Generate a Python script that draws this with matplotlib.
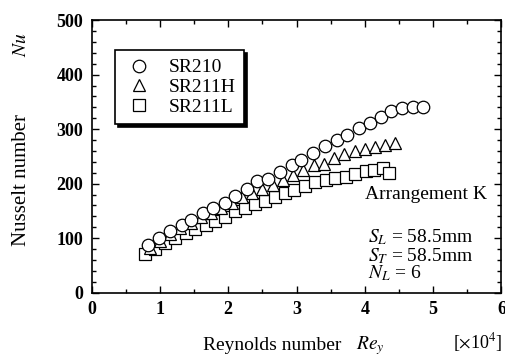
import numpy as np
import matplotlib.pyplot as plt
from matplotlib.ticker import MultipleLocator

plt.rcParams['font.family'] = ['Liberation Serif', 'DejaVu Serif']
plt.rcParams['mathtext.fontset'] = 'stix'

# SR210 (circles)
re_210 = [0.83, 0.98, 1.15, 1.32, 1.46, 1.63, 1.78, 1.95, 2.10, 2.27, 2.42, 2.58, 2.76,
          2.93, 3.07, 3.24, 3.41, 3.59, 3.74, 3.92, 4.07, 4.24, 4.39, 4.55, 4.70, 4.85]
nu_210 = [87, 100, 113, 124, 133, 146, 155, 165, 177, 190, 205, 209, 222,
          235, 243, 257, 270, 281, 289, 302, 312, 323, 333, 338, 341, 341]
# SR211H (triangles)
re_211h = [0.85, 1.0, 1.15, 1.3, 1.45, 1.6, 1.75, 1.9, 2.05, 2.2, 2.35, 2.5, 2.65,
           2.8, 2.95, 3.1, 3.25, 3.4, 3.55, 3.7, 3.85, 4.0, 4.15, 4.3, 4.44]
nu_211h = [82, 95, 107, 118, 128, 138, 147, 155, 165, 175, 182, 190, 197,
           207, 216, 225, 234, 237, 248, 255, 260, 264, 268, 271, 274]
# SR211L (squares)
re_211l = [0.78, 0.93, 1.07, 1.22, 1.38, 1.51, 1.67, 1.81, 1.95, 2.10, 2.24, 2.39, 2.54,
           2.68, 2.83, 2.97, 3.12, 3.27, 3.43, 3.57, 3.72, 3.86, 4.01, 4.14, 4.27, 4.36]
nu_211l = [71, 81, 92, 100, 109, 116, 124, 132, 139, 149, 155, 163, 169,
           176, 182, 189, 195, 203, 207, 210, 213, 217, 224, 225, 229, 220]

fig = plt.figure(figsize=(5.06, 3.6), dpi=100)
ax = fig.add_axes([0.181, 0.187, 0.810, 0.757])

mk = dict(ls='none', mfc='white', mec='black', mew=0.9, ms=9)
ax.plot(re_211l, nu_211l, 's', label='SR211L', **mk)
ax.plot(re_211h, nu_211h, '^', label='SR211H', **mk)
ax.plot(re_210, nu_210, 'o', label='SR210', **mk)

ax.set_xlim(0, 6)
ax.set_ylim(0, 500)
ax.xaxis.set_major_locator(MultipleLocator(1))
ax.xaxis.set_minor_locator(MultipleLocator(0.5))
ax.yaxis.set_major_locator(MultipleLocator(100))
ax.yaxis.set_minor_locator(MultipleLocator(20))
ax.tick_params(which='both', direction='in', top=True, right=True, width=1.0)
ax.tick_params(which='major', length=5, labelsize=13, pad=6)
ax.tick_params(which='minor', length=3)
for t in ax.get_xticklabels() + ax.get_yticklabels():
    t.set_fontweight('bold')
for s in ax.spines.values():
    s.set_linewidth(1.2)

h, l = ax.get_legend_handles_labels()
leg = ax.legend(h[::-1], l[::-1], loc='upper left', bbox_to_anchor=(0.057, 0.89),
                borderaxespad=0, fancybox=False, edgecolor='black', fontsize=14,
                handletextpad=0.7, borderpad=0.45, labelspacing=0.1, handlelength=1.6,
                shadow={'color': 'black', 'alpha': 1})
leg.get_frame().set_linewidth(1.2)

ax.text(0.965, 0.36, 'Arrangement K', transform=ax.transAxes, ha='right', va='center', fontsize=14)
ax.text(0.675, 0.205, '$S_L$ = 58.5mm', transform=ax.transAxes, ha='left', va='center', fontsize=14)
ax.text(0.675, 0.135, '$S_T$ = 58.5mm', transform=ax.transAxes, ha='left', va='center', fontsize=14)
ax.text(0.675, 0.07, '$N_L$ = 6', transform=ax.transAxes, ha='left', va='center', fontsize=14)

fig.text(0.042, 0.5, 'Nusselt number', rotation=90, ha='center', va='center', fontsize=15)
fig.text(0.042, 0.875, '$Nu$', rotation=90, ha='center', va='center', fontsize=14)
fig.text(0.538, 0.04, 'Reynolds number', ha='center', va='center', fontsize=14)
fig.text(0.732, 0.04, '$Re_y$', ha='center', va='center', fontsize=14)
fig.text(0.945, 0.05, r'[$\times$10$^4$]', ha='center', va='center', fontsize=13)

fig.savefig('out.png', dpi=100)
